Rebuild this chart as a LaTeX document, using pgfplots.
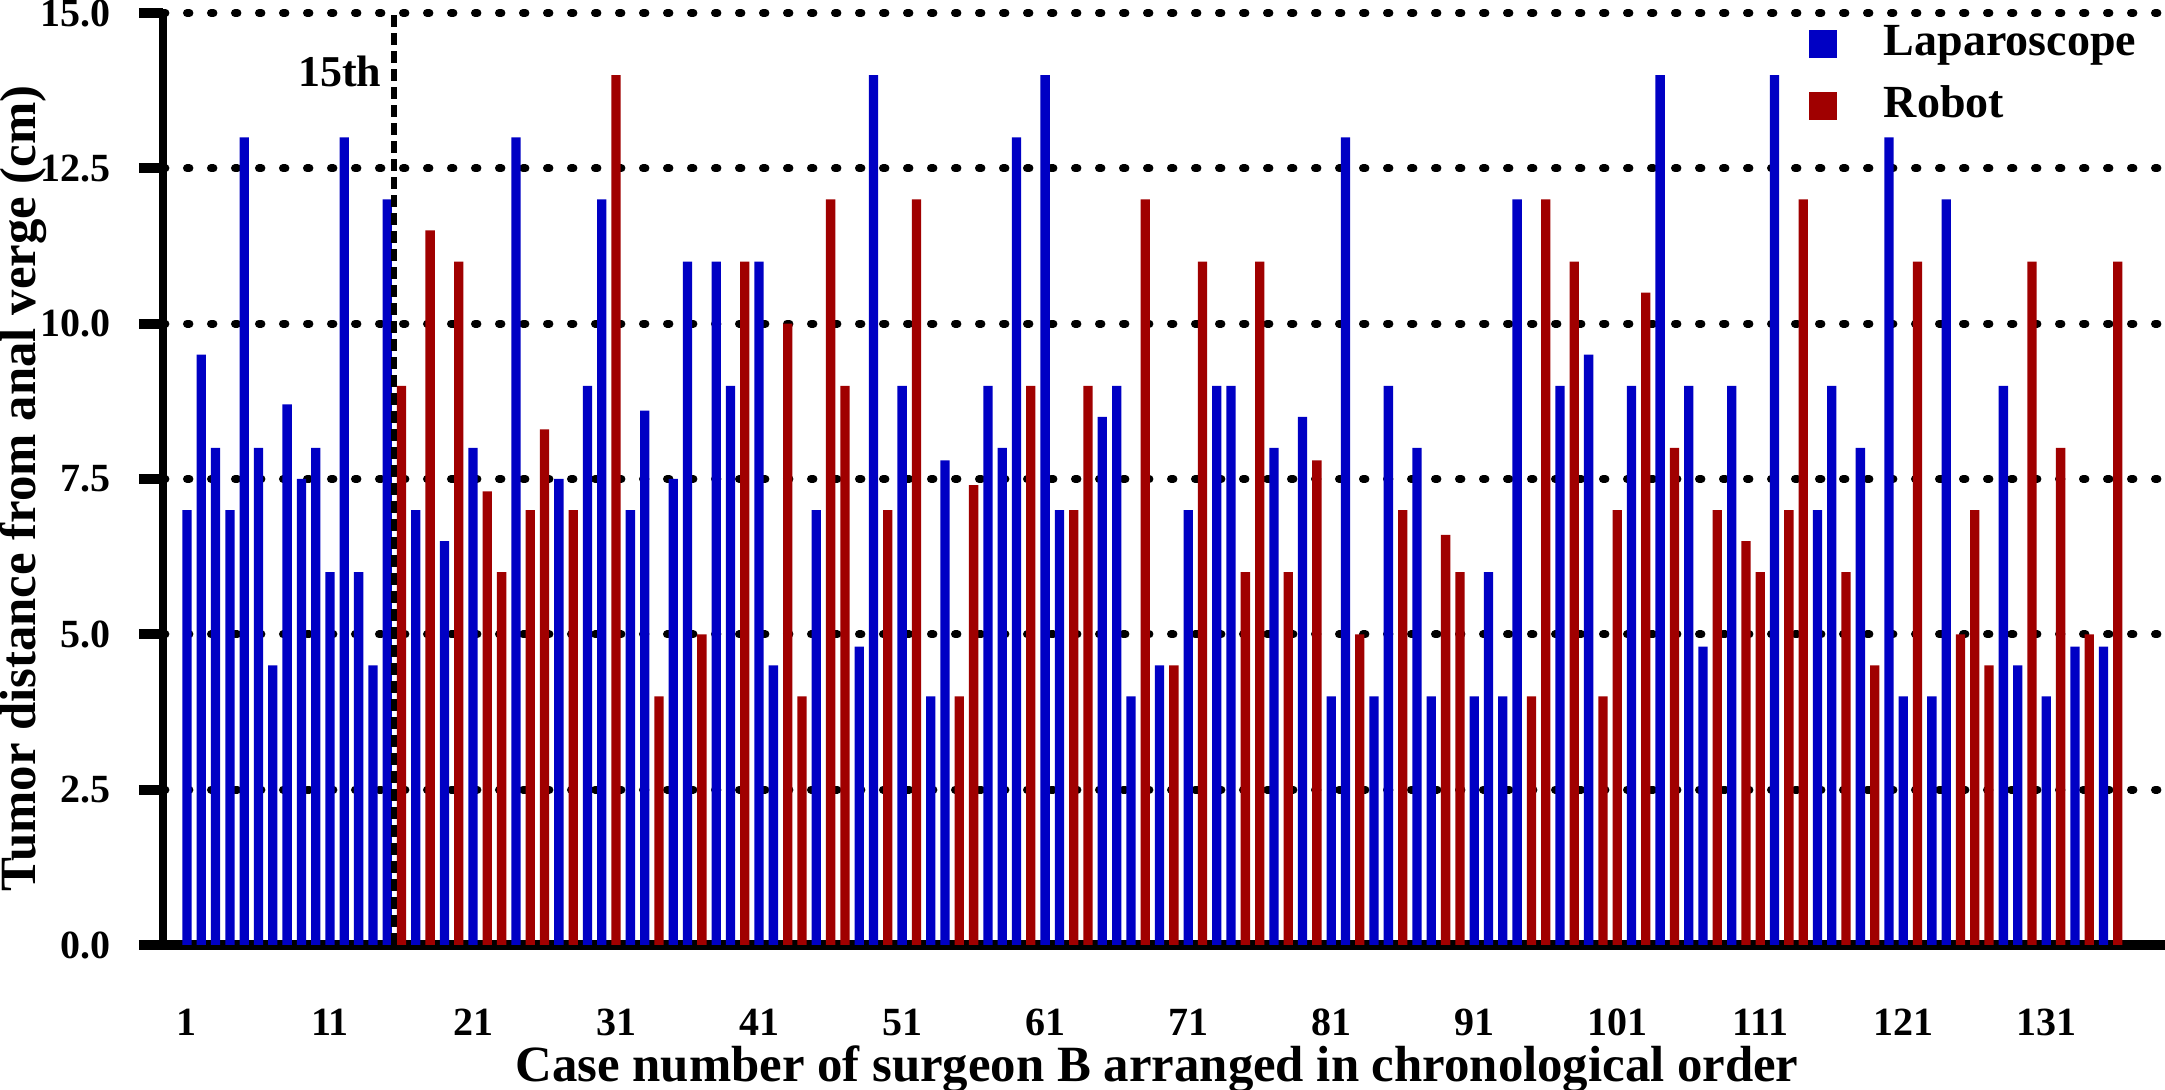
\documentclass[border=0pt]{standalone}
\usepackage{fontspec}
\setmainfont{Liberation Serif}
\usepackage{pgfplots}
\pgfplotsset{compat=1.18}
\usepackage{pgfplotstable}
\definecolor{lapblue}{RGB}{0,0,196}
\definecolor{robred}{RGB}{160,0,0}

\pgfplotstableread{
x y
1 7
2 9.5
3 8
4 7
5 13
6 8
7 4.5
8 8.7
9 7.5
10 8
11 6
12 13
13 6
14 4.5
15 12
17 7
19 6.5
21 8
24 13
27 7.5
29 9
30 12
32 7
33 8.6
35 7.5
36 11
38 11
39 9
41 11
42 4.5
45 7
48 4.8
49 14
51 9
53 4
54 7.8
57 9
58 8
59 13
61 14
62 7
65 8.5
66 9
67 4
69 4.5
71 7
73 9
74 9
77 8
79 8.5
81 4
82 13
84 4
85 9
87 8
88 4
91 4
92 6
93 4
94 12
97 9
99 9.5
102 9
104 14
106 9
107 4.8
109 9
112 14
115 7
116 9
118 8
120 13
121 4
123 4
124 12
128 9
129 4.5
131 4
133 4.8
135 4.8
}\lap

\pgfplotstableread{
x y
16 9
18 11.5
20 11
22 7.3
23 6
25 7
26 8.3
28 7
31 14
34 4
37 5
40 11
43 10
44 4
46 12
47 9
50 7
52 12
55 4
56 7.4
60 9
63 7
64 9
68 12
70 4.5
72 11
75 6
76 11
78 6
80 7.8
83 5
86 7
89 6.6
90 6
95 4
96 12
98 11
100 4
101 7
103 10.5
105 8
108 7
110 6.5
111 6
113 7
114 12
117 6
119 4.5
122 11
125 5
126 7
127 4.5
130 11
132 8
134 5
136 11
}\rob

\begin{document}
\begin{tikzpicture}
\useasboundingbox (-40.75pt,-36.25pt) rectangle (500.5pt,236.25pt);
\begin{axis}[
  scale only axis, width=500.5pt, height=233pt,
  xmin=-0.678, xmax=139.3, ymin=0, ymax=15,
  enlargelimits=false, clip=false,
  axis lines=left,
  axis line style={-, black},
  x axis line style={line width=2.5pt},
  y axis line style={line width=2pt},
  ytick={0,2.5,...,15},
  xtick={1,11,...,131},
  tick align=outside,
  major tick length=6pt,
  xtick style={draw=none},
  ytick style={line width=2.5pt, black},
  ymajorgrids,
  grid style={black, line width=2pt, dash pattern=on 0.6pt off 5.4pt, line cap=round},
  /pgf/number format/assume math mode=true,
  yticklabel style={/pgf/number format/fixed, /pgf/number format/fixed zerofill, /pgf/number format/precision=1,
    inner sep=0pt, anchor=east, xshift=-7pt},
  tick label style={font=\bfseries\fontsize{10}{12}\selectfont},
  xticklabel style={yshift=-6.4pt},
  label style={font=\bfseries\fontsize{12.7}{15}\selectfont},
  xlabel={Case number of surgeon B arranged in chronological order},
  ylabel={Tumor distance from anal verge (cm)},
  xlabel style={at={(axis description cs:0.4965,0)}, anchor=base, yshift=-34.25pt},
  ylabel style={at={(axis description cs:-0.0639,0.49)}, anchor=base},
  bar width=0.65,
  legend cell align=left,
  legend style={at={(axis description cs:0.8217,0.99)}, anchor=north west, draw=none, fill=none,
    inner sep=0pt, row sep=5pt, column sep=11.75pt,
    nodes={inner sep=0pt, text height=8pt, text depth=2.5pt, font=\bfseries\fontsize{11.5}{13}\selectfont}},
  legend image code/.code={\fill[#1] (0pt,-3.5pt) rectangle (7pt,3.5pt);},
]
\addplot[ybar, bar shift=0pt, fill=lapblue, draw=none] table {\lap};
\addlegendentry{Laparoscope}
\addplot[ybar, bar shift=0pt, fill=robred, draw=none] table {\rob};
\addlegendentry{Robot}
\pgfplotsinvokeforeach{0,2.5,5,7.5,10,12.5,15}{
  \draw[black, line width=2.5pt] (axis cs:-0.678,#1) -- ++(-6pt,0pt);
}
\draw[black, line width=1.5pt, dash pattern=on 3pt off 1.5pt] (axis cs:15.5,0) -- (axis cs:15.5,15);
\node[anchor=base east, font=\bfseries\fontsize{11}{13}\selectfont, inner sep=0pt] at (axis cs:14.64,13.81) {15th};
\end{axis}
\end{tikzpicture}
\end{document}
